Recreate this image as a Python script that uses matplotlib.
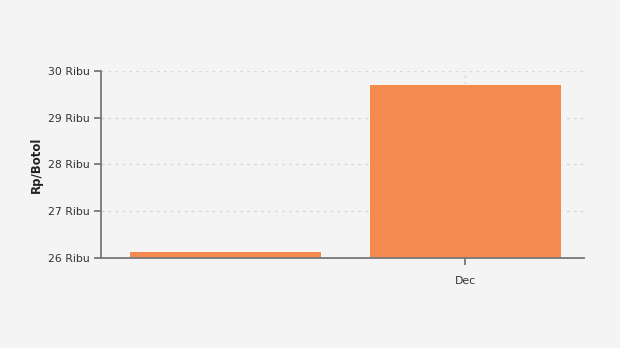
import matplotlib.pyplot as plt

months = ["Nov", "Dec"]
prices = [26140, 29720]
y_ticks = [26000, 27000, 28000, 29000, 30000]
y_labels = ["26 Ribu", "27 Ribu", "28 Ribu", "29 Ribu", "30 Ribu"]

bg = "#f4f4f4"
fig = plt.figure(figsize=(6.2, 3.48), dpi=100, facecolor=bg)
ax = fig.add_axes([0.163, 0.2586, 0.779, 0.5374], facecolor=bg)

x = list(range(len(months)))
ax.bar(x, prices, width=0.8, color="#f38b4e", edgecolor="white", linewidth=0.6, zorder=3)

ax.set_ylim(26000, 30000)
ax.set_xlim(-0.517, 1.496)
ax.set_yticks(y_ticks)
ax.set_yticklabels(y_labels)
ax.set_xticks([1])
ax.set_xticklabels([months[1]])

ax.grid(True, color="#d8d8d8", linestyle=(0, (2, 3)), linewidth=1, zorder=0)

for s in ["top", "right"]:
    ax.spines[s].set_visible(False)
for s in ["left", "bottom"]:
    ax.spines[s].set_color("#777777")
    ax.spines[s].set_linewidth(1.3)
    ax.spines[s].set_zorder(4)

ax.tick_params(axis="both", colors="#777777", length=5, width=1.3,
               labelcolor="#333333", labelsize=7.8)
ax.tick_params(axis="y", pad=3)
ax.tick_params(axis="x", pad=8)

ax.set_ylabel("Rp/Botol", fontsize=8.5, fontweight="bold", color="#222222", labelpad=4)

fig.savefig("out.png", dpi=100, facecolor=bg)
